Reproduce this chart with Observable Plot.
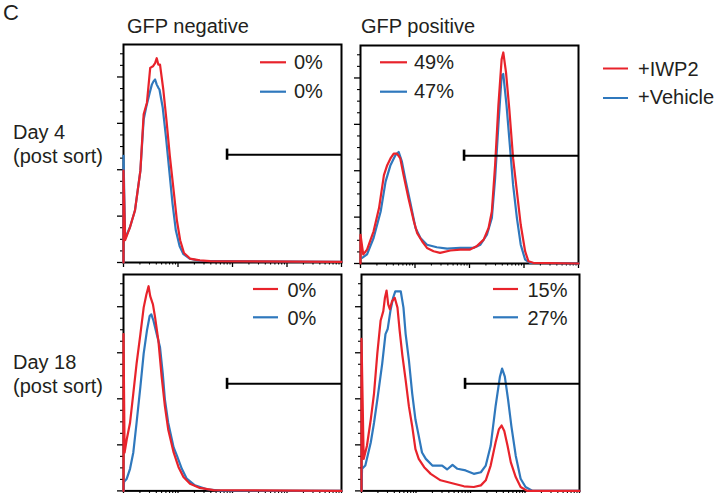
<!DOCTYPE html>
<html><head><meta charset="utf-8">
<script src="https://cdn.jsdelivr.net/npm/d3@7"></script>
<script src="https://cdn.jsdelivr.net/npm/@observablehq/plot@0.6"></script>
<style>
html,body{margin:0;padding:0;background:#fff;}
#root{position:relative;width:724px;height:493px;overflow:hidden;font-family:"Liberation Sans",Arial,sans-serif;}
.p{position:absolute;}
#ov{position:absolute;left:0;top:0;pointer-events:none;}
</style></head>
<body><div id="root"></div>
<script>
// x values: log10 fluorescence intensity; y values: cell count (normalized)
const negDay4Iwp2 = [[1,0],[1,39.6],[1.03,9.6],[1.12,15.3],[1.21,22.4],[1.31,39.6],[1.37,63.9],[1.43,68.9],[1.49,83.9],[1.54,84.6],[1.58,86],[1.61,88.1],[1.64,85.3],[1.67,85.3],[1.73,74.6],[1.79,61],[1.85,46],[1.92,31],[1.98,18.1],[2.04,9.6],[2.11,4.1],[2.22,1.7],[2.40,0.9],[2.59,0.6],[5,0.3]];
const negDay4Vehicle = [[1,0],[1,46],[1.03,10.3],[1.12,15.3],[1.21,22.4],[1.31,39.6],[1.37,61.7],[1.42,67.4],[1.48,73.1],[1.52,76.7],[1.55,78.1],[1.58,78.9],[1.61,76.7],[1.64,75.3],[1.66,74.6],[1.72,66.7],[1.78,53.9],[1.84,39.6],[1.90,25.3],[1.96,13.9],[2.03,7],[2.10,3.6],[2.22,1.6],[2.40,0.7],[5,0.3]];
const posDay4Iwp2 = [[1,0],[1,12.4],[1.05,3.9],[1.12,6],[1.24,13.9],[1.34,23.9],[1.43,38.1],[1.49,42.4],[1.55,45.3],[1.61,47.4],[1.67,47.4],[1.73,45.3],[1.79,38.1],[1.88,28.1],[1.98,18.1],[2.04,13.1],[2.13,9.6],[2.22,6.7],[2.34,5.3],[2.46,4.6],[2.65,5.6],[2.83,6],[3.01,6],[3.13,7.4],[3.26,10.3],[3.35,15.3],[3.41,22.4],[3.47,42.4],[3.53,68.1],[3.59,88.1],[3.62,91],[3.67,82.4],[3.73,66.7],[3.80,45.3],[3.87,31],[3.94,16.7],[4.02,5.3],[4.08,1],[4.17,0.3],[5,0]];
const posDay4Vehicle = [[1.03,2.4],[1.12,3.9],[1.24,11],[1.37,22.4],[1.46,35.3],[1.55,42.4],[1.64,46.7],[1.70,48.1],[1.76,43.9],[1.82,36.7],[1.91,26.7],[2.01,15.3],[2.10,11],[2.22,8.1],[2.40,7],[2.59,6.4],[2.83,6.7],[3.07,6.7],[3.20,8.1],[3.32,12.4],[3.41,19.6],[3.47,36.7],[3.53,59.6],[3.59,81],[3.62,81.7],[3.68,68.1],[3.74,51],[3.80,33.9],[3.87,19.6],[3.94,8.1],[4.02,1.7],[4.11,0.3],[5,0]];
const negDay18Iwp2 = [[1,0],[1,68.1],[1.02,16.7],[1.06,22.4],[1.12,29.6],[1.18,42.4],[1.24,55.3],[1.31,68.1],[1.37,79.6],[1.42,85.3],[1.46,88.9],[1.49,84.6],[1.54,81],[1.58,75.3],[1.64,65.3],[1.70,49.6],[1.76,36.7],[1.82,26.7],[1.92,16.7],[2.01,10.3],[2.10,6],[2.22,3.1],[2.40,1.3],[2.65,0.3],[5,0]];
const negDay18Vehicle = [[1,0],[1.01,3.9],[1.06,5.3],[1.12,9.6],[1.18,16.7],[1.24,29.6],[1.31,45.3],[1.37,59.6],[1.43,69.6],[1.48,76],[1.51,76.7],[1.55,73.9],[1.61,68.1],[1.67,62.4],[1.72,51],[1.76,39.6],[1.82,29.6],[1.92,18.9],[1.98,15.3],[2.07,9.6],[2.16,5.3],[2.31,2.4],[2.53,0.7],[2.77,0.1],[5,0]];
const posDay18Iwp2 = [[1,0],[1,66],[1.04,13.9],[1.10,19.6],[1.17,31],[1.23,42.4],[1.29,59.6],[1.35,73.9],[1.40,78.1],[1.43,83.9],[1.46,87],[1.49,81],[1.52,78.9],[1.56,82.4],[1.61,83.9],[1.66,79.6],[1.70,69.6],[1.75,58.9],[1.81,48.1],[1.87,36.7],[1.93,28.1],[1.99,18.1],[2.05,13.9],[2.15,10.3],[2.27,7.4],[2.45,4.6],[2.70,3.1],[2.88,2],[3.06,1.7],[3.19,2.4],[3.28,4.6],[3.37,11],[3.46,21],[3.52,26.7],[3.57,28.4],[3.62,26],[3.68,19.6],[3.74,12.4],[3.83,6],[3.92,1.7],[4.04,0],[5,0]];
const posDay18Vehicle = [[1,0],[1.01,9.6],[1.07,11],[1.17,21],[1.23,29.6],[1.29,39.6],[1.38,55.3],[1.44,68.1],[1.48,70.3],[1.53,78.1],[1.58,83.9],[1.62,86.7],[1.72,86.7],[1.77,79.6],[1.81,68.1],[1.87,56.7],[1.93,42.4],[1.99,31],[2.05,23.9],[2.11,16.7],[2.18,13.9],[2.30,11],[2.48,11],[2.57,9.3],[2.67,11.3],[2.76,9.6],[2.91,8.9],[3.06,7.4],[3.19,8.1],[3.28,11],[3.37,19.6],[3.46,36.7],[3.54,49.6],[3.58,53.1],[3.63,49.6],[3.69,39.6],[3.75,28.1],[3.83,15.3],[3.92,5.3],[4.01,1.7],[4.14,0],[5,0]];

const columns = ["GFP negative", "GFP positive"];
const rows = [["Day 4", "(post sort)"], ["Day 18", "(post sort)"]];
const seriesNames = ["+IWP2", "+Vehicle"];
const pctDay4 = [["0%", "0%"], ["49%", "47%"]];   // [column][IWP2, Vehicle]
const pctDay18 = [["0%", "0%"], ["15%", "27%"]];
const gateStart = 2.9;   // log10 intensity
const gateLevel = 46.5;
const xDomain = [10, 1e5];
const yDomain = [0, 94];
const majorX = [10, 100, 1000, 10000, 100000];
const minorMult = [2, 3, 4, 5, 6, 7, 8, 9];
const majorY = [0, 20, 40, 60, 80];
const minorY = [5, 10, 15, 25, 30, 35, 45, 50, 55, 65, 70, 75, 85, 90];

const RED = "#e8232b", BLUE = "#2f78bd", INK = "#231f20";
const minorX = majorX.slice(0, -1).flatMap(d => minorMult.map(m => m * d));
const ML = 12, MR = 4, MT = 4, MB = 8, PW = 218;

function toRows(arr) { return arr.map(([lx, y]) => ({x: 10 ** lx, y})); }

function panel(red, blue, h) {
  const blank = () => "";
  return Plot.plot({
    width: PW + ML + MR, height: h + MT + MB,
    marginLeft: ML, marginRight: MR, marginTop: MT, marginBottom: MB,
    style: {background: "transparent", overflow: "visible"},
    x: {type: "log", domain: xDomain},
    y: {domain: yDomain},
    marks: [
      Plot.frame({stroke: "#000", strokeWidth: 2}),
      Plot.axisX({ticks: majorX, tickSize: 5, tickFormat: blank, label: null, strokeWidth: 1.3}),
      Plot.axisX({ticks: minorX, tickSize: 2.5, tickFormat: blank, label: null, strokeWidth: 1.1}),
      Plot.axisY({ticks: majorY, tickSize: 6, tickFormat: blank, label: null, strokeWidth: 1.3}),
      Plot.axisY({ticks: minorY, tickSize: 3, tickFormat: blank, label: null, strokeWidth: 1.1}),
      Plot.line(toRows(blue), {x: "x", y: "y", stroke: BLUE, strokeWidth: 2.2, strokeLinejoin: "round"}),
      Plot.line(toRows(red), {x: "x", y: "y", stroke: RED, strokeWidth: 2.2, strokeLinejoin: "round"}),
      Plot.ruleY([gateLevel], {x1: 10 ** gateStart, x2: xDomain[1], stroke: "#000", strokeWidth: 2}),
      Plot.ruleX([10 ** gateStart], {y1: gateLevel - 2.4, y2: gateLevel + 2.4, stroke: "#000", strokeWidth: 2.6})
    ]
  });
}

const root = document.getElementById("root");
const panels = [
  {red: negDay4Iwp2, blue: negDay4Vehicle, left: 123, top: 44, h: 218},
  {red: posDay4Iwp2, blue: posDay4Vehicle, left: 360, top: 44.5, h: 218},
  {red: negDay18Iwp2, blue: negDay18Vehicle, left: 123, top: 274.3, h: 216.4},
  {red: posDay18Iwp2, blue: posDay18Vehicle, left: 360.5, top: 274.3, h: 216.4}
];
for (const p of panels) {
  const div = document.createElement("div");
  div.className = "p";
  div.style.left = (p.left - ML) + "px";
  div.style.top = (p.top - MT) + "px";
  div.appendChild(panel(p.red, p.blue, p.h));
  root.appendChild(div);
}

// overlay: titles, row labels, legends
const svg = d3.select(root).append("svg").attr("id", "ov").attr("width", 724).attr("height", 493)
  .style("font-family", '"Liberation Sans", Arial, sans-serif').attr("fill", INK);
function txt(x, y, s, size) { svg.append("text").attr("x", x).attr("y", y).attr("font-size", size).text(s); }
function seg(x1, x2, y, c, w) { svg.append("line").attr("x1", x1).attr("x2", x2).attr("y1", y).attr("y2", y).attr("stroke", c).attr("stroke-width", w); }

txt(3, 20, "C", 22);
txt(127, 33, columns[0], 20);
txt(361, 33, columns[1], 20);
txt(13, 139, rows[0][0], 20); txt(13, 163, rows[0][1], 20);
txt(13, 369, rows[1][0], 20); txt(13, 393, rows[1][1], 20);

// figure legend
seg(603, 628, 68.5, RED, 2); txt(638, 75.5, seriesNames[0], 20);
seg(603, 628, 98, BLUE, 2); txt(638, 103.5, seriesNames[1], 20);

// in-panel percentage legends
const inLeg = [
  {x1: 260, x2: 286, tx: 294, y: [62.3, 91.7], b: [69, 98.3], t: pctDay4[0]},
  {x1: 380, x2: 407, tx: 414, y: [62.3, 91.7], b: [69, 98.3], t: pctDay4[1]},
  {x1: 253, x2: 278, tx: 287.5, y: [289, 317.3], b: [296.7, 325], t: pctDay18[0]},
  {x1: 493, x2: 518, tx: 527.5, y: [289, 317.3], b: [296.7, 325], t: pctDay18[1]}
];
for (const l of inLeg) {
  seg(l.x1, l.x2, l.y[0], RED, 2.2); txt(l.tx, l.b[0], l.t[0], 20);
  seg(l.x1, l.x2, l.y[1], BLUE, 2.2); txt(l.tx, l.b[1], l.t[1], 20);
}
</script></body></html>
